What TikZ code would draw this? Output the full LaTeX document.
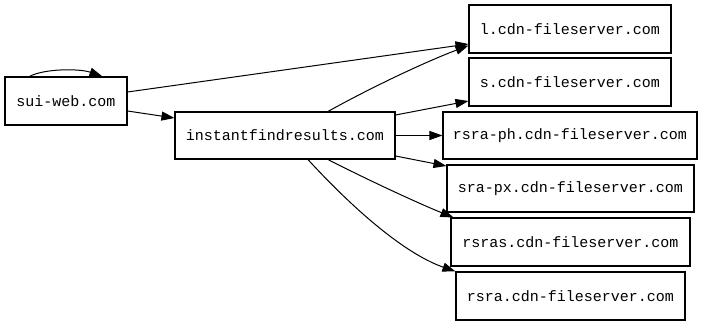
\documentclass[tikz,border=0pt]{standalone}
\usepackage{fontspec}
\setmonofont{Liberation Mono}
\usetikzlibrary{arrows.meta,calc}
\begin{document}
\begin{tikzpicture}[x=1pt,y=-1pt,
  box/.style={draw, line width=1.1pt, inner sep=0pt, font=\ttfamily\fontsize{15}{17}\selectfont},
  edge/.style={line width=1pt, -{Triangle[length=13pt,width=9pt]}}]
\useasboundingbox (0,0) rectangle (704,325);
\node[box, minimum width=122pt, minimum height=48pt] (sui) at (66,101) {sui-web.com};
\node[box, minimum width=220pt, minimum height=47pt] (inst) at (285,135.5) {instantfindresults.com};
\node[box, minimum width=202pt, minimum height=48pt] (l) at (570,29) {l.cdn-fileserver.com};
\node[box, minimum width=202pt, minimum height=48pt] (s) at (570,82) {s.cdn-fileserver.com};
\node[box, minimum width=254pt, minimum height=47pt] (ph) at (570,135.5) {rsra-ph.cdn-fileserver.com};
\node[box, minimum width=247pt, minimum height=47pt] (px) at (570.5,188.5) {sra-px.cdn-fileserver.com};
\node[box, minimum width=239pt, minimum height=48pt] (ras) at (570.5,242) {rsras.cdn-fileserver.com};
\node[box, minimum width=229pt, minimum height=48pt] (ra) at (570.5,296) {rsra.cdn-fileserver.com};
% self loop
\draw[edge] ($(sui.north west)+(25,0)$) .. controls ($(sui.north west)+(40,-8)$) and ($(sui.north west)+(75,-8)$) .. ($(sui.north west)+(98,0)$);
\draw[edge] (sui.east |- 0,92) -- (l.west |- 0,44);
\draw[edge] (sui.east |- 0,111) -- (inst.west |- 0,118);
\draw[edge] (inst.north -| 328,0) .. controls (370,88) and (425,62) .. ($(l.south west)+(0,-8)$);
\draw[edge] (inst.east |- 0,115) -- (s.west |- 0,101);
\draw[edge] (inst.east) -- (ph.west);
\draw[edge] (inst.east |- 0,156) -- (px.west |- 0,166);
\draw[edge] (inst.south -| 328,0) .. controls (370,181) and (420,204) .. ($(ras.north west)+(3,0)$);
\draw[edge] (inst.south -| 308,0) .. controls (345,200) and (400,252) .. ($(ra.north west)+(0,0)$);
\end{tikzpicture}
\end{document}
